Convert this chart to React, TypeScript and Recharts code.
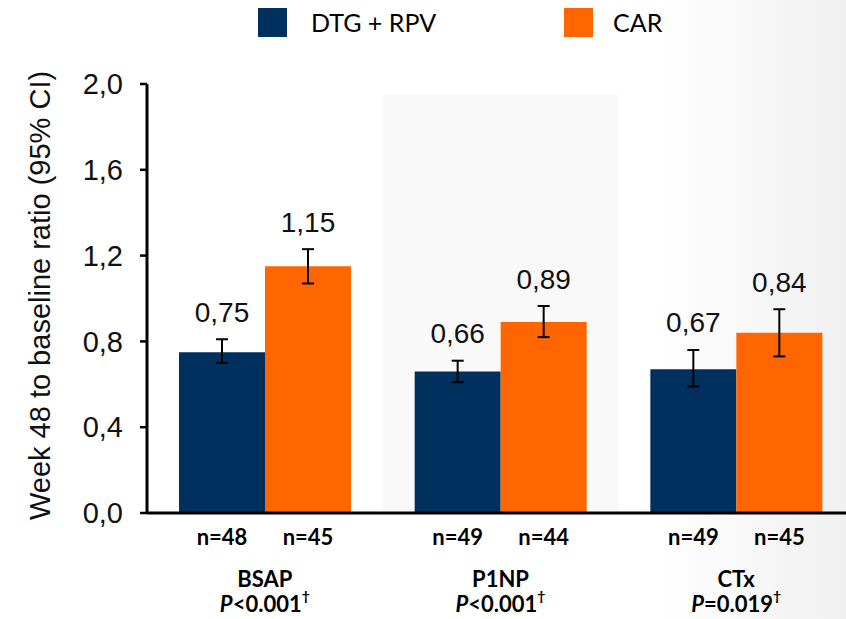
import React from 'react'
import { BarChart, Bar, XAxis, YAxis, ErrorBar, LabelList, ReferenceArea } from 'recharts'

// values
const categories = ['BSAP', 'P1NP', 'CTx']
const pValues = ['<0.001', '<0.001', '=0.019']
const seriesNames = ['DTG + RPV', 'CAR']
const dtgValues = [0.75, 0.66, 0.67]
const carValues = [1.15, 0.89, 0.84]
const dtgLow = [0.70, 0.61, 0.59]
const dtgHigh = [0.81, 0.71, 0.76]
const carLow = [1.07, 0.82, 0.73]
const carHigh = [1.23, 0.965, 0.95]
const dtgN = [48, 49, 49]
const carN = [45, 44, 45]
const yTicks = [0, 0.4, 0.8, 1.2, 1.6, 2.0]
const shadedCategory = 'P1NP'

const NAVY = '#00305e'
const ORANGE = '#ff6600'
const ARIAL = '"Liberation Sans", Arial, sans-serif'
const CALIBRI = 'Lato, "Open Sans", sans-serif'

const data = categories.map((name, i) => ({
  name,
  dtg: dtgValues[i],
  car: carValues[i],
  dtgErr: [dtgValues[i] - dtgLow[i], dtgHigh[i] - dtgValues[i]],
  carErr: [carValues[i] - carLow[i], carHigh[i] - carValues[i]],
}))

const fmt = (v: number) => v.toFixed(2).replace('.', ',')

// value label sits above the upper CI whisker
const valueLabel = (high: number[]) => (props: any) => {
  const { x, y, width, height, value, index } = props
  const scale = height / value
  const top = y - (high[index] - value) * scale
  return (
    <text x={x + width / 2} y={top - 27} textAnchor="middle" dominantBaseline="central"
      fontFamily={ARIAL} fontSize={28} fill="#111">
      {fmt(value)}
    </text>
  )
}

const nLabel = (ns: number[]) => (props: any) => {
  const { x, y, width, height, index } = props
  return (
    <text x={x + width / 2} y={y + height + 23} textAnchor="middle" dominantBaseline="central"
      fontFamily={CALIBRI} fontWeight="bold" fontSize={22} fill="#000">
      {`n=${ns[index]}`}
    </text>
  )
}

const CategoryTick = ({ x, y, payload }: any) => (
  <g>
    <text x={x} y={y + 65} textAnchor="middle" dominantBaseline="central"
      fontFamily={CALIBRI} fontWeight="bold" fontSize={22} fill="#000">
      {payload.value}
    </text>
    <text x={x} y={y + 90} textAnchor="middle" dominantBaseline="central"
      fontFamily={CALIBRI} fontWeight="bold" fontSize={22} fill="#000">
      <tspan fontStyle="italic">P</tspan>
      <tspan>{pValues[payload.index]}</tspan>
      <tspan dy={-8} fontSize={14}>†</tspan>
    </text>
  </g>
)

const YLabel = (props: any) => {
  const { viewBox } = props
  const cx = viewBox.x + 13
  const cy = viewBox.y + viewBox.height / 2 - 3
  return (
    <text x={cx} y={cy} transform={`rotate(-90, ${cx}, ${cy})`} textAnchor="middle"
      dominantBaseline="central" fontFamily={ARIAL} fontSize={29} fill="#111">
      Week 48 to baseline ratio (95% CI)
    </text>
  )
}

const legendColors = [NAVY, ORANGE]

export default function App() {
  return (
    <div style={{
      position: 'absolute', left: 0, top: 0, width: 846, height: 619, overflow: 'hidden',
      background: 'linear-gradient(to right, #ffffff 78%, #f0f0f0 100%)',
    }}>
      {/* legend */}
      <div style={{ position: 'absolute', top: 7, left: 258, display: 'flex' }}>
        {seriesNames.map((name, i) => (
          <div key={name} style={{ display: 'flex', alignItems: 'center', width: i === 0 ? 306 : 150 }}>
            <div style={{ width: 29, height: 29, background: legendColors[i] }} />
            <span style={{ marginLeft: i === 0 ? 24 : 20, fontFamily: CALIBRI, fontSize: 25, color: '#000', whiteSpace: 'nowrap' }}>
              {name}
            </span>
          </div>
        ))}
      </div>
      <BarChart width={870} height={619} data={data}
        margin={{ top: 84, right: 16, left: 27, bottom: 6 }} barGap={0}>
        <ReferenceArea x1={shadedCategory} x2={shadedCategory} y1={0} y2={1.95}
          fill="#f9f9f9" fillOpacity={1} stroke="none" ifOverflow="visible" />
        <XAxis dataKey="name" height={100} axisLine={{ stroke: '#000', strokeWidth: 3 }}
          tickLine={false} tickSize={0} tickMargin={0} tick={<CategoryTick />} interval={0} />
        <YAxis domain={[0, 2]} ticks={yTicks} width={120} interval={0} allowDataOverflow
          tickFormatter={(v: number) => v.toFixed(1).replace('.', ',')}
          axisLine={{ stroke: '#000', strokeWidth: 3 }}
          tickLine={{ stroke: '#000', strokeWidth: 2.5 }} tickSize={7} tickMargin={17}
          tick={{ fill: '#111', fontSize: 29, fontFamily: ARIAL }}
          label={YLabel} />
        <Bar dataKey="dtg" name={seriesNames[0]} fill={NAVY} barSize={86} isAnimationActive={false}>
          <ErrorBar dataKey="dtgErr" width={6} stroke="#000" strokeWidth={2} />
          <LabelList dataKey="dtg" content={valueLabel(dtgHigh)} />
          <LabelList dataKey="dtg" content={nLabel(dtgN)} />
        </Bar>
        <Bar dataKey="car" name={seriesNames[1]} fill={ORANGE} barSize={86} isAnimationActive={false}>
          <ErrorBar dataKey="carErr" width={6} stroke="#000" strokeWidth={2} />
          <LabelList dataKey="car" content={valueLabel(carHigh)} />
          <LabelList dataKey="car" content={nLabel(carN)} />
        </Bar>
      </BarChart>
    </div>
  )
}
